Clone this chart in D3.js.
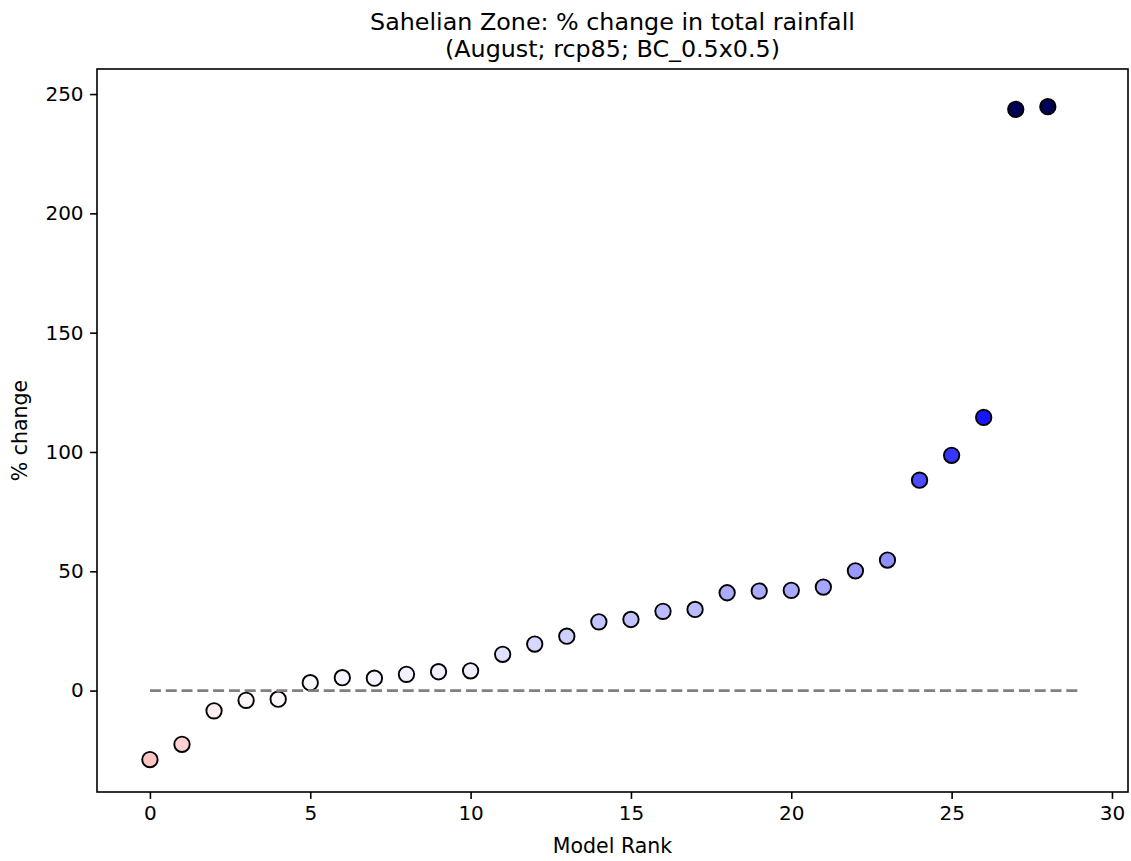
<!DOCTYPE html>
<html>
<head>
<meta charset="utf-8">
<script src="https://cdn.jsdelivr.net/npm/d3@7"></script>
<style>
  html, body { margin: 0; padding: 0; background: #fff; }
  svg { display: block; font-family: "DejaVu Sans", sans-serif; }
</style>
</head>
<body>
<svg id="chart" width="1131" height="861"></svg>
<script>
// ---- data ----
const titleLines = ["Sahelian Zone: % change in total rainfall", "(August; rcp85; BC_0.5x0.5)"];
const xLabel = "Model Rank";
const yLabel = "% change";
const modelRank = d3.range(29);
const pctChange = [-28.9, -22.5, -8.5, -4.1, -3.6, 3.3, 5.4, 5.2, 6.8, 7.9, 8.3,
  15.2, 19.5, 22.8, 28.8, 29.8, 33.2, 34.0, 41.0, 41.7, 42.0, 43.4, 50.2, 54.7,
  88.2, 98.6, 114.5, 243.6, 244.7];
const xTicks = [0, 5, 10, 15, 20, 25, 30];
const yTicks = [0, 50, 100, 150, 200, 250];
const zeroLine = [[0, 0], [29, 0]];

// ---- layout ----
const svg = d3.select("#chart");
const L = 97, R = 1128, T = 69, B = 792;
const x = d3.scaleLinear().domain([-1.65, 30.5]).range([L, R]);
const y = d3.scaleLinear().domain([-42.5, 260.5]).range([B, T]);

// seismic_r colormap, symmetric norm
const cmax = 250;
const color = d3.scaleLinear()
  .domain([-cmax, -cmax / 2, 0, cmax / 2, cmax])
  .range(["#800000", "#ff0000", "#ffffff", "#0000ff", "#00004d"])
  .interpolate(d3.interpolateRgb)
  .clamp(true);

const fs = 20;

// title
svg.append("text")
  .attr("x", (L + R) / 2).attr("y", 30)
  .attr("text-anchor", "middle").attr("font-size", 23.8)
  .selectAll("tspan").data(titleLines).join("tspan")
  .attr("x", (L + R) / 2).attr("dy", (d, i) => i === 0 ? 0 : 26.5)
  .text(d => d);

// scatter
svg.append("g").selectAll("circle")
  .data(modelRank)
  .join("circle")
  .attr("cx", i => x(i))
  .attr("cy", i => y(pctChange[i]))
  .attr("r", 7.7)
  .attr("fill", i => color(pctChange[i]))
  .attr("stroke", "#000")
  .attr("stroke-width", 1.9);

// dashed zero line
svg.append("path")
  .datum(zeroLine)
  .attr("d", d3.line().x(d => x(d[0])).y(d => y(d[1])))
  .attr("fill", "none")
  .attr("stroke", "#808080")
  .attr("stroke-width", 2.9)
  .attr("stroke-dasharray", "11,4.8");

// axes
const xAxis = d3.axisBottom(x).tickValues(xTicks).tickSize(6.9).tickPadding(6.5).tickFormat(d3.format("d"));
const yAxis = d3.axisLeft(y).tickValues(yTicks).tickSize(6.9).tickPadding(6.5).tickFormat(d3.format("d"));

const gx = svg.append("g").attr("transform", `translate(0,${B})`).call(xAxis);
const gy = svg.append("g").attr("transform", `translate(${L},0)`).call(yAxis);
[gx, gy].forEach(g => {
  g.select(".domain").remove();
  g.selectAll(".tick line").attr("stroke", "#000").attr("stroke-width", 1.6);
  g.selectAll(".tick text").attr("font-size", fs).attr("fill", "#000")
    .attr("font-family", "DejaVu Sans, sans-serif");
});

// frame
svg.append("rect")
  .attr("x", L).attr("y", T).attr("width", R - L).attr("height", B - T)
  .attr("fill", "none").attr("stroke", "#000").attr("stroke-width", 1.6);

// axis labels
svg.append("text")
  .attr("x", (L + R) / 2).attr("y", 853)
  .attr("text-anchor", "middle").attr("font-size", 20.5)
  .text(xLabel);
svg.append("text")
  .attr("transform", `translate(27,${(T + B) / 2}) rotate(-90)`)
  .attr("text-anchor", "middle").attr("font-size", 20.5)
  .text(yLabel);
</script>
</body>
</html>
